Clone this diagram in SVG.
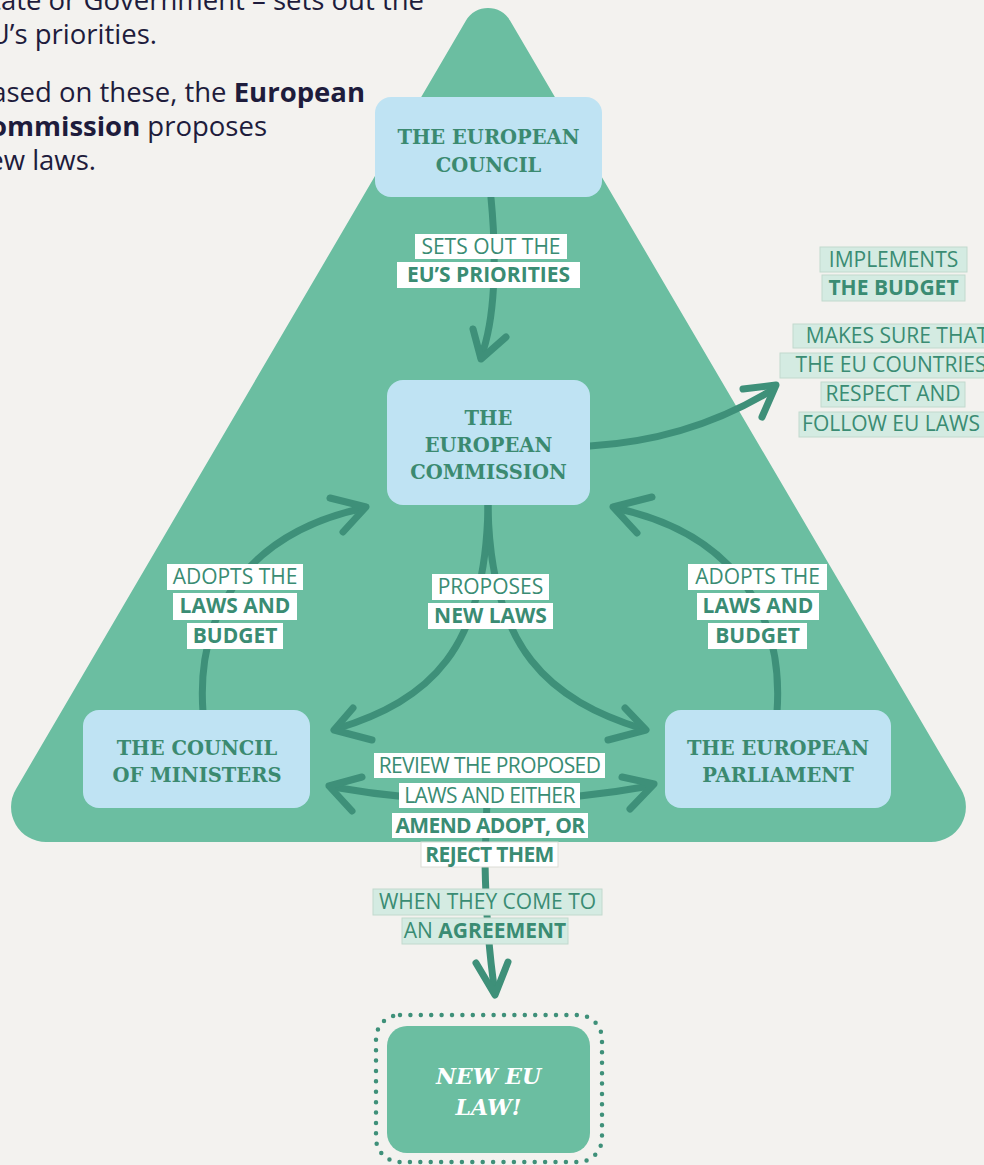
<svg xmlns="http://www.w3.org/2000/svg" width="984" height="1165" viewBox="0 0 984 1165">
  <style>
    .paper { fill: #f3f2ef; }
    .tri { fill: #6bbea1; }
    .box { fill: #bfe3f3; }
    .title { font-family: "DejaVu Serif", "Liberation Serif", serif; font-weight: bold; font-size: 19.5px; fill: #3b8a70; text-anchor: middle; }
    .law { font-family: "DejaVu Serif", "Liberation Serif", serif; font-weight: bold; font-style: italic; font-size: 22px; fill: #ffffff; text-anchor: middle; }
    .wire { fill: none; stroke: #3e9079; stroke-width: 7; stroke-linecap: round; stroke-linejoin: round; }
    .dots { fill: none; stroke: #3e9079; stroke-width: 4.5; stroke-linecap: round; stroke-dasharray: 0 10.4; }
    .tag { fill: #ffffff; }
    .tag-out { fill: #d4ebe2; stroke: #c2d9ce; stroke-width: 1; }
    .lbl { font-family: "Open Sans", "Noto Sans", sans-serif; font-size: 21px; fill: #3a8c73; text-anchor: middle; }
    .tight { letter-spacing: -0.6px; }
    .b { font-weight: bold; }
    .body { font-family: "Open Sans", "Noto Sans", sans-serif; font-size: 27.5px; fill: #1e1c3c; text-anchor: end; }
  </style>

  <rect class="paper" x="0" y="0" width="984" height="1165"/>

  <!-- intro text, running in from the left margin -->
  <g id="intro">
    <text class="body" x="424" y="10">State or Government – sets out the</text>
    <text class="body" x="157" y="44">EU’s priorities.</text>
    <text class="body" x="365" y="102">Based on these, the <tspan class="b">European</tspan></text>
    <text class="body" x="267" y="136"><tspan class="b">Commission</tspan> proposes</text>
    <text class="body" x="96" y="170">new laws.</text>
  </g>

  <!-- rounded triangle backdrop -->
  <path id="triangle" class="tri" d="M 510 20.6 L 961.1 789.3 A 35 35 0 0 1 930.9 842 L 46.1 842 A 35 35 0 0 1 15.9 789.2 L 466 20.6 A 25.5 25.5 0 0 1 510 20.6 Z"/>

  <g id="connectors">
    <!-- council sets priorities -> commission -->
    <path class="wire" d="M 491 198 C 497 260, 495 320, 481 357"/>
    <path class="wire" d="M 473 329 L 481 359 L 506 337"/>
    <!-- commission -> implements / enforces -->
    <path class="wire" d="M 590 446 Q 690 440 772 390"/>
    <path class="wire" d="M 743 389 L 776 385 L 762 417"/>
    <!-- proposes new laws -> ministers -->
    <path class="wire" d="M 488 505 C 486 650, 430 700, 336 729"/>
    <path class="wire" d="M 353 708 L 334 730 L 372 740"/>
    <!-- proposes new laws -> parliament -->
    <path class="wire" d="M 488 505 C 490 650, 550 700, 643 729"/>
    <path class="wire" d="M 625 708 L 646 730 L 608 740"/>
    <!-- ministers adopt -> commission -->
    <path class="wire" d="M 203 712 C 195 600, 260 530, 364 508"/>
    <path class="wire" d="M 330 498 L 366 507 L 343 532"/>
    <!-- parliament adopts -> commission -->
    <path class="wire" d="M 777 712 C 785 600, 720 530, 615 508"/>
    <path class="wire" d="M 652 497 L 613 507 L 637 533"/>
    <!-- review between ministers and parliament -->
    <path class="wire" d="M 333 787 Q 490 815 650 786"/>
    <path class="wire" d="M 362 777 L 329 786 L 352 811"/>
    <path class="wire" d="M 622 777 L 654 784 L 630 809"/>
    <!-- agreement -> new law -->
    <path class="wire" d="M 487 800 L 485 862 C 486 920, 490 960, 495 993"/>
    <path class="wire" d="M 476 963 L 495 995 L 508 962"/>
  </g>

  <g id="labels">
    <rect class="tag" x="415" y="234" width="152" height="25"/>
    <text class="lbl" x="491" y="254">SETS OUT THE</text>
    <rect class="tag" x="397" y="262" width="183" height="26"/>
    <text class="lbl b" x="488.5" y="282">EU’S PRIORITIES</text>

    <rect class="tag" x="167" y="564" width="136" height="26"/>
    <text class="lbl" x="235" y="584">ADOPTS THE</text>
    <rect class="tag" x="173" y="593" width="124" height="27"/>
    <text class="lbl b" x="235" y="613">LAWS AND</text>
    <rect class="tag" x="187" y="623" width="96" height="26"/>
    <text class="lbl b" x="235" y="643">BUDGET</text>

    <rect class="tag" x="688" y="564" width="139" height="26"/>
    <text class="lbl" x="757.5" y="584">ADOPTS THE</text>
    <rect class="tag" x="697" y="593" width="122" height="27"/>
    <text class="lbl b" x="758" y="613">LAWS AND</text>
    <rect class="tag" x="708" y="623" width="99" height="26"/>
    <text class="lbl b" x="757.5" y="643">BUDGET</text>

    <rect class="tag" x="432" y="574" width="117" height="26"/>
    <text class="lbl" x="490.5" y="594">PROPOSES</text>
    <rect class="tag" x="428" y="603" width="125" height="26"/>
    <text class="lbl b" x="490.5" y="623">NEW LAWS</text>

    <rect class="tag" x="374" y="753" width="231" height="25"/>
    <text class="lbl tight" x="489.5" y="772.5">REVIEW THE PROPOSED</text>
    <rect class="tag" x="399" y="783" width="181" height="25"/>
    <text class="lbl tight" x="489.5" y="802.5">LAWS AND EITHER</text>
    <rect class="tag" x="392" y="813" width="196" height="25"/>
    <text class="lbl b tight" x="490" y="832.5">AMEND ADOPT, OR</text>
    <rect class="tag" x="421" y="842" width="137" height="25" stroke="#dcdcd6" stroke-width="1"/>
    <text class="lbl b tight" x="489.5" y="861.5">REJECT THEM</text>

    <rect class="tag-out" x="373" y="889" width="229" height="26"/>
    <text class="lbl" x="487.5" y="909">WHEN THEY COME TO</text>
    <rect class="tag-out" x="402" y="918" width="166" height="26"/>
    <text class="lbl" x="485" y="938">AN <tspan class="b">AGREEMENT</tspan></text>

    <rect class="tag-out" x="820" y="247" width="147" height="25"/>
    <text class="lbl" x="893.5" y="266.5">IMPLEMENTS</text>
    <rect class="tag-out" x="822" y="275" width="143" height="26"/>
    <text class="lbl b" x="893.5" y="295">THE BUDGET</text>

    <rect class="tag-out" x="793" y="324" width="200" height="24"/>
    <text class="lbl" x="897" y="343">MAKES SURE THAT</text>
    <rect class="tag-out" x="780" y="353" width="210" height="25"/>
    <text class="lbl" x="891" y="372">THE EU COUNTRIES</text>
    <rect class="tag-out" x="821" y="382" width="144" height="25"/>
    <text class="lbl" x="893" y="401">RESPECT AND</text>
    <rect class="tag-out" x="799" y="412" width="190" height="25"/>
    <text class="lbl" x="891" y="431">FOLLOW EU LAWS</text>
  </g>

  <g id="european-council">
    <rect class="box" x="375" y="97" width="227" height="100" rx="16"/>
    <text class="title" x="488.5" y="144">THE EUROPEAN</text>
    <text class="title" x="488.5" y="172">COUNCIL</text>
  </g>

  <g id="european-commission">
    <rect class="box" x="387" y="380" width="203" height="125" rx="16"/>
    <text class="title" x="488.5" y="425">THE</text>
    <text class="title" x="488.5" y="452">EUROPEAN</text>
    <text class="title" x="488.5" y="479">COMMISSION</text>
  </g>

  <g id="council-of-ministers">
    <rect class="box" x="83" y="710" width="227" height="98" rx="16"/>
    <text class="title" x="197" y="755">THE COUNCIL</text>
    <text class="title" x="197" y="782">OF MINISTERS</text>
  </g>

  <g id="european-parliament">
    <rect class="box" x="665" y="710" width="226" height="98" rx="16"/>
    <text class="title" x="778" y="755">THE EUROPEAN</text>
    <text class="title" x="778" y="782">PARLIAMENT</text>
  </g>

  <g id="new-eu-law">
    <rect class="dots" x="376" y="1015" width="226" height="147" rx="24"/>
    <rect class="tri" x="387" y="1026" width="203" height="127" rx="20"/>
    <text class="law" x="488.5" y="1084">NEW EU</text>
    <text class="law" x="488.5" y="1115">LAW!</text>
  </g>
</svg>
